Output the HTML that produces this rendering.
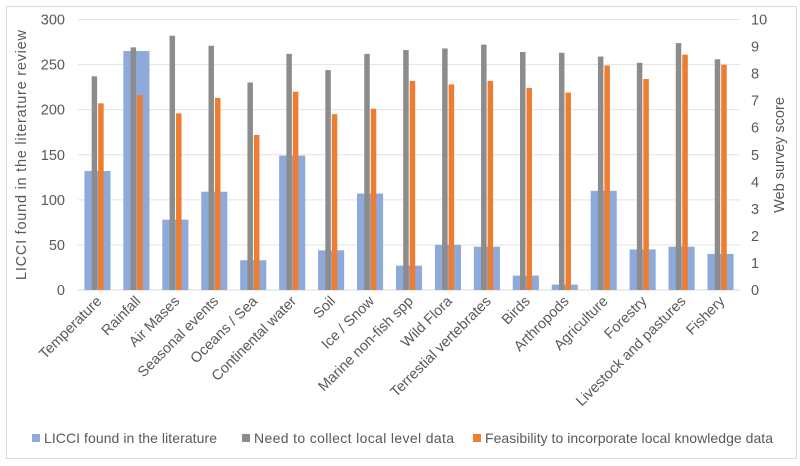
<!DOCTYPE html>
<html><head><meta charset="utf-8"><style>
body{margin:0;background:#fff;}
svg{display:block;font-family:"Liberation Sans",Calibri,sans-serif;}
</style></head><body>
<svg id="chart" width="800" height="466">
<rect x="6.5" y="6.5" width="790" height="452" fill="#fff" stroke="#d9d9d9"/>
<g id="grid"></g><g id="bars"></g><g id="labels"></g>
<text transform="translate(26,155) rotate(-90)" text-anchor="middle" font-size="14.5" fill="#595959" textLength="250">LICCI found in the literature review</text>
<text transform="translate(784,155) rotate(-90)" text-anchor="middle" font-size="14.5" fill="#595959">Web survey score</text>
<g>
<g><rect x="32" y="434" width="8" height="8" fill="#8eaadb"/><text x="44" y="443" font-size="14" fill="#595959" textLength="173">LICCI found in the literature</text></g>
<g><rect x="242" y="434" width="8" height="8" fill="#8c8c8c"/><text x="254" y="443" font-size="14" fill="#595959" textLength="200">Need to collect local level data</text></g>
<g><rect x="473" y="434" width="8" height="8" fill="#ed7d31"/><text x="485" y="443" font-size="14" fill="#595959" textLength="288">Feasibility to incorporate local knowledge data</text></g>
</g>
</svg>
<script>
const categories=["Temperature","Rainfall","Air Mases","Seasonal events","Oceans / Sea","Continental water","Soil","Ice / Snow","Marine non-fish spp","Wild Flora","Terrestial vertebrates","Birds","Arthropods","Agriculture","Forestry","Livestock and pastures","Fishery"];
const licci=[132,265,78,109,33,149,44,107,27,50,48,16,6,110,45,48,40];
const needData=[7.9,8.97,9.4,9.03,7.67,8.73,8.13,8.73,8.87,8.93,9.07,8.8,8.77,8.63,8.4,9.13,8.53];
const feasibility=[6.9,7.2,6.53,7.1,5.73,7.33,6.5,6.7,7.73,7.6,7.73,7.47,7.3,8.3,7.8,8.7,8.33];
const leftTicks=[0,50,100,150,200,250,300];
const rightTicks=[0,1,2,3,4,5,6,7,8,9,10];
const NS="http://www.w3.org/2000/svg";
const X0=78,X1=740,Y0=290,Y1=19.5;
const band=(X1-X0)/categories.length;
const yL=v=>Y0-(v/300)*(Y0-Y1);
const yR=v=>Y0-(v/10)*(Y0-Y1);
const xC=i=>X0+band*(i+0.5);
function mk(tag,attrs,parent){const e=document.createElementNS(NS,tag);for(const k in attrs)e.setAttribute(k,attrs[k]);parent.appendChild(e);return e;}
const grid=document.getElementById('grid'),bars=document.getElementById('bars'),labels=document.getElementById('labels');
leftTicks.forEach(t=>{
  const l=mk('line',{x1:X0,x2:X1,y1:yL(t),y2:yL(t),stroke:t===0?'#d9d9d9':'#e3e3e3','stroke-width':1},grid);
  
  
  const tx=mk('text',{x:65,y:yL(t)+5,'text-anchor':'end','font-size':14.5,fill:'#595959'},labels);
  tx.textContent=t;
  
  
});
rightTicks.forEach(t=>{
  const tx=mk('text',{x:751,y:yR(t)+5,'font-size':14.5,fill:'#595959'},labels);
  tx.textContent=t;
  
  
});
const bw=band*0.67,nw=5.5;
categories.forEach((c,i)=>{
  const cx=xC(i);
  const b=mk('rect',{x:cx-bw/2,y:yL(licci[i]),width:bw,height:Y0-yL(licci[i]),fill:'#8eaadb'},bars);
  
  
  const g=mk('rect',{x:cx-nw-0.3,y:yR(needData[i]),width:nw,height:Y0-yR(needData[i]),fill:'#8c8c8c'},bars);
  
  
  const o=mk('rect',{x:cx+0.7,y:yR(feasibility[i]),width:nw,height:Y0-yR(feasibility[i]),fill:'#ed7d31'},bars);
  
  
  const t=mk('text',{transform:`translate(${cx+5},${Y0+12}) rotate(-45)`,'text-anchor':'end','font-size':14.5,fill:'#595959'},labels);
  t.textContent=c;
  
  
});
</script>
</body></html>
